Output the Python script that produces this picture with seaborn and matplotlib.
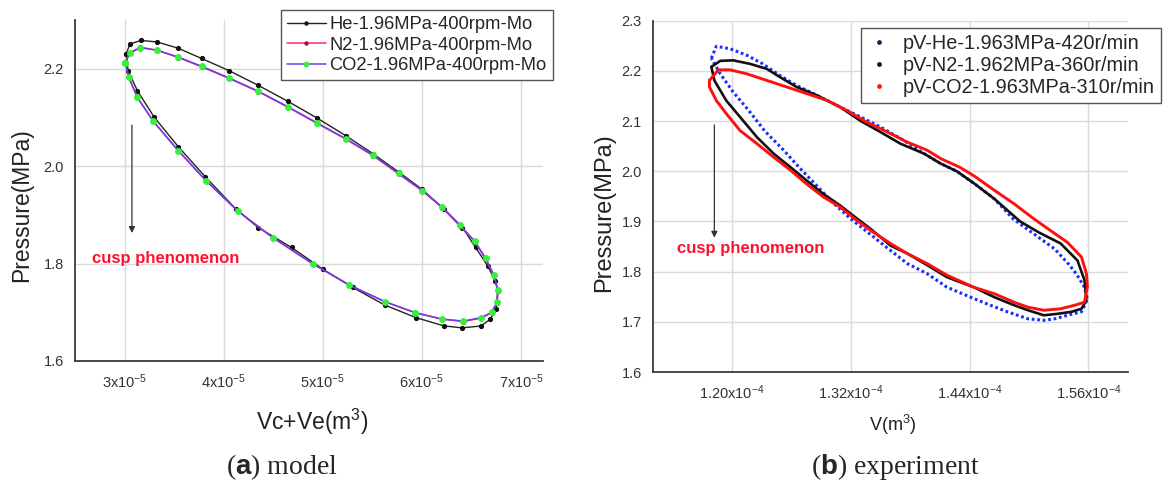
import numpy as np
import pandas as pd
import matplotlib
matplotlib.use("Agg")
import matplotlib.pyplot as plt
import seaborn as sns
from matplotlib.lines import Line2D
from matplotlib.ticker import MultipleLocator, FixedLocator

# ---------------- data (a) model : volume in 1e-5 m^3, pressure in MPa ----------------
he_v = [3.016, 3.054, 3.166, 3.327, 3.541, 3.777, 4.054, 4.347, 4.647, 4.939, 5.235, 5.509,
        5.771, 5.996, 6.221, 6.408, 6.540, 6.663, 6.738, 6.765, 6.746, 6.690, 6.596, 6.408,
        6.221, 5.940, 5.622, 5.302, 5.003, 4.684, 4.347, 4.122, 3.815, 3.541, 3.297, 3.129,
        3.035, 3.016]
he_p = [2.230, 2.251, 2.258, 2.255, 2.242, 2.221, 2.196, 2.166, 2.133, 2.099, 2.062, 2.025,
        1.987, 1.953, 1.912, 1.874, 1.833, 1.795, 1.764, 1.744, 1.706, 1.686, 1.672, 1.668,
        1.672, 1.689, 1.715, 1.751, 1.788, 1.833, 1.874, 1.912, 1.978, 2.040, 2.101, 2.155,
        2.196, 2.230]

n2_v = [3.006, 3.054, 3.159, 3.327, 3.541, 3.777, 4.054, 4.347, 4.647, 4.939, 5.235, 5.509,
        5.764, 6.004, 6.202, 6.382, 6.532, 6.641, 6.727, 6.765, 6.757, 6.701, 6.596, 6.416,
        6.202, 5.933, 5.622, 5.266, 4.902, 4.497, 4.141, 3.822, 3.541, 3.290, 3.129, 3.043,
        3.006]
n2_p = [2.213, 2.233, 2.244, 2.238, 2.223, 2.204, 2.180, 2.153, 2.121, 2.088, 2.055, 2.021,
        1.984, 1.949, 1.915, 1.877, 1.845, 1.809, 1.775, 1.744, 1.720, 1.699, 1.688, 1.681,
        1.686, 1.699, 1.722, 1.756, 1.799, 1.853, 1.908, 1.970, 2.032, 2.092, 2.141, 2.182,
        2.213]

co2_v = [3.006, 3.054, 3.159, 3.327, 3.541, 3.777, 4.054, 4.347, 4.647, 4.939, 5.235, 5.509,
         5.764, 6.004, 6.202, 6.382, 6.532, 6.641, 6.727, 6.765, 6.757, 6.701, 6.596, 6.416,
         6.202, 5.933, 5.622, 5.266, 4.902, 4.497, 4.141, 3.822, 3.541, 3.290, 3.129, 3.043,
         3.006]
co2_p = [2.212, 2.232, 2.243, 2.238, 2.224, 2.205, 2.181, 2.154, 2.122, 2.089, 2.056, 2.022,
         1.985, 1.950, 1.916, 1.879, 1.846, 1.811, 1.776, 1.745, 1.721, 1.700, 1.689, 1.682,
         1.686, 1.699, 1.722, 1.756, 1.799, 1.853, 1.908, 1.970, 2.032, 2.092, 2.141, 2.182,
         2.212]

model_labels = ["He-1.96MPa-400rpm-Mo", "N2-1.96MPa-400rpm-Mo", "CO2-1.96MPa-400rpm-Mo"]

# ---------------- data (b) experiment : volume in 1e-6 m^3, pressure in MPa ----------------
exp_he_v = [117.9, 118.4, 119.8, 121.5, 123.1, 124.8, 126.5, 128.6, 130.9, 133.0, 135.0, 137.3,
            139.4, 141.1, 142.7, 144.5, 146.5, 148.4, 150.5, 152.6, 154.0, 154.8, 155.6, 155.9,
            155.3, 153.9, 152.6, 151.5, 149.9, 147.8, 146.1, 144.1, 141.7, 139.7, 137.7, 135.5,
            133.6, 132.0, 130.2, 128.6, 126.9, 125.2, 123.3, 121.8, 120.1, 118.8, 117.9]
exp_he_p = [2.225, 2.249, 2.244, 2.231, 2.214, 2.191, 2.171, 2.151, 2.128, 2.108, 2.088, 2.062,
            2.035, 2.015, 2.000, 1.975, 1.945, 1.905, 1.875, 1.845, 1.815, 1.795, 1.769, 1.745,
            1.720, 1.713, 1.706, 1.703, 1.706, 1.720, 1.733, 1.749, 1.769, 1.796, 1.816, 1.850,
            1.880, 1.905, 1.937, 1.970, 2.005, 2.042, 2.080, 2.118, 2.158, 2.194, 2.225]

exp_n2_v = [117.9, 118.8, 120.1, 121.8, 123.5, 124.8, 126.5, 128.6, 130.9, 133.0, 135.0, 137.0,
            139.4, 141.1, 142.7, 144.5, 146.5, 149.1, 151.0, 153.2, 154.9, 155.6, 155.8, 155.3,
            154.3, 152.9, 151.5, 149.9, 148.5, 146.5, 144.4, 141.7, 139.7, 137.7, 136.0, 134.0,
            132.6, 130.9, 129.2, 127.5, 125.9, 124.2, 122.5, 120.8, 119.4, 118.2, 117.9]
exp_n2_p = [2.208, 2.220, 2.221, 2.214, 2.204, 2.188, 2.168, 2.151, 2.128, 2.100, 2.078, 2.055,
            2.035, 2.015, 2.000, 1.975, 1.945, 1.900, 1.878, 1.856, 1.822, 1.783, 1.743, 1.726,
            1.720, 1.716, 1.713, 1.723, 1.733, 1.749, 1.769, 1.789, 1.813, 1.836, 1.852, 1.885,
            1.906, 1.932, 1.955, 1.982, 2.008, 2.035, 2.068, 2.108, 2.141, 2.181, 2.208]

exp_co2_v = [117.7, 118.6, 119.8, 121.5, 123.5, 125.5, 127.5, 129.6, 131.6, 133.6, 135.7, 137.7,
             139.7, 141.1, 143.0, 144.5, 146.5, 148.5, 150.5, 152.3, 153.9, 155.3, 155.8, 155.9,
             155.6, 154.6, 153.2, 151.5, 149.9, 148.5, 146.5, 144.4, 141.7, 139.7, 137.7, 136.0,
             134.0, 132.6, 130.9, 129.2, 127.5, 125.9, 124.2, 122.5, 120.8, 119.4, 118.4, 117.7,
             117.7]
exp_co2_p = [2.181, 2.202, 2.202, 2.194, 2.181, 2.168, 2.155, 2.141, 2.121, 2.098, 2.078, 2.058,
             2.042, 2.025, 2.008, 1.990, 1.962, 1.935, 1.905, 1.880, 1.858, 1.829, 1.796, 1.770,
             1.739, 1.733, 1.726, 1.723, 1.729, 1.739, 1.756, 1.769, 1.793, 1.816, 1.836, 1.856,
             1.882, 1.902, 1.929, 1.949, 1.975, 2.002, 2.028, 2.055, 2.081, 2.115, 2.141, 2.168,
             2.181]

exp_labels = ["pV-He-1.963MPa-420r/min", "pV-N2-1.962MPa-360r/min", "pV-CO2-1.963MPa-310r/min"]

# ---------------- ticks ----------------
left_xticks = [3, 4, 5, 6, 7]
left_xticklabels = ["3x10$^{-5}$", "4x10$^{-5}$", "5x10$^{-5}$", "6x10$^{-5}$", "7x10$^{-5}$"]
left_yticks = [1.6, 1.8, 2.0, 2.2]
right_xticks = [120, 132, 144, 156]
right_xticklabels = ["1.20x10$^{-4}$", "1.32x10$^{-4}$", "1.44x10$^{-4}$", "1.56x10$^{-4}$"]
right_yticks = [1.6, 1.7, 1.8, 1.9, 2.0, 2.1, 2.2, 2.3]

# ---------------- style ----------------
sns.set_style("white")
plt.rcParams["font.family"] = ["Liberation Sans", "DejaVu Sans"]
plt.rcParams["mathtext.fontset"] = "custom"
plt.rcParams["mathtext.rm"] = "Liberation Sans"
plt.rcParams["mathtext.it"] = "Liberation Sans:italic"
plt.rcParams["mathtext.bf"] = "Liberation Sans:bold"
plt.rcParams["mathtext.default"] = "regular"

W, H = 1164, 490
fig = plt.figure(figsize=(W / 100, H / 100), dpi=100)
axL = fig.add_axes([75 / W, 1 - 361 / H, (543 - 75) / W, (361 - 20) / H])
axR = fig.add_axes([653 / W, 1 - 372 / H, (1128 - 653) / W, (372 - 20.7) / H])

grid_c = "#dadada"
axis_c = "#3a3a3a"


def style_axes(ax):
    for s in ["top", "right"]:
        ax.spines[s].set_visible(False)
    for s in ["left", "bottom"]:
        ax.spines[s].set_color(axis_c)
        ax.spines[s].set_linewidth(1.3)
    ax.tick_params(which="major", direction="out", length=4, width=1.1, color=axis_c,
                   labelsize=10.5, labelcolor="#333333", pad=4)
    ax.tick_params(which="minor", direction="out", length=2.5, width=1.0, color=axis_c)
    ax.grid(True, which="major", color=grid_c, linewidth=1.0)
    ax.set_axisbelow(True)


# ---------------- (a) model ----------------
sns.lineplot(x=he_v, y=he_p, ax=axL, sort=False, estimator=None, color="#222222", lw=1.0,
             marker="o", markersize=3, markerfacecolor="#111111", markeredgecolor="#111111",
             label=model_labels[0])
sns.lineplot(x=n2_v, y=n2_p, ax=axL, sort=False, estimator=None, color="#f0306a", lw=1.1,
             marker="o", markersize=3, markerfacecolor="#a01030", markeredgecolor="#a01030",
             label=model_labels[1])
sns.lineplot(x=co2_v, y=co2_p, ax=axL, sort=False, estimator=None, color="#6a3cf0", lw=1.1,
             marker="o", markersize=4.2, markerfacecolor="#36f03a", markeredgecolor="#36f03a",
             label=model_labels[2])

axL.set_xlim(2.5, 7.22)
axL.set_ylim(1.6, 2.3)
axL.xaxis.set_major_locator(FixedLocator(left_xticks))
axL.set_xticklabels(left_xticklabels)
axL.xaxis.set_minor_locator(MultipleLocator(0.5))
axL.yaxis.set_major_locator(FixedLocator(left_yticks))
axL.set_yticklabels([f"{v:.1f}" for v in left_yticks])
axL.yaxis.set_minor_locator(MultipleLocator(0.1))
style_axes(axL)

axL.set_xlabel("Vc+Ve(m$^3$)", fontsize=16.5, color="#222222")
axL.set_ylabel("Pressure(MPa)", fontsize=16.5, color="#222222")
axL.xaxis.set_label_coords(0.506, -0.179)
axL.xaxis.label.set_va("center")
axL.yaxis.set_label_coords(-0.113, 0.457)
axL.yaxis.label.set_va("center")

axL.annotate("", xy=(3.074, 1.857), xytext=(3.074, 2.090),
             arrowprops=dict(arrowstyle="-|>", color="#333333", lw=0.9, mutation_scale=9))
axL.text(2.669, 1.811, "cusp phenomenon", color="#ff1030", fontsize=12, fontweight="bold",
         ha="left", va="center")

legL = axL.legend(loc="upper right", bbox_to_anchor=(553 / W, 1 - 10 / H),
                  bbox_transform=fig.transFigure, fontsize=13.2, frameon=True, fancybox=False,
                  edgecolor="#555555", framealpha=1, handlelength=2.1, handletextpad=0.2,
                  labelspacing=0.18, borderpad=0.35, borderaxespad=0, markerscale=0.8)
legL.get_frame().set_linewidth(1.0)

# ---------------- (b) experiment ----------------
sns.lineplot(x=exp_he_v, y=exp_he_p, ax=axR, sort=False, estimator=None, color="#1a2cff",
             lw=2.2, linestyle=(0, (0.9, 0.9)))
sns.lineplot(x=exp_n2_v, y=exp_n2_p, ax=axR, sort=False, estimator=None, color="#111111", lw=1.9)
sns.lineplot(x=exp_co2_v, y=exp_co2_p, ax=axR, sort=False, estimator=None, color="#ff1010", lw=2.1)

axR.set_xlim(112, 160)
axR.set_ylim(1.6, 2.3)
axR.xaxis.set_major_locator(FixedLocator(right_xticks))
axR.set_xticklabels(right_xticklabels)
axR.xaxis.set_minor_locator(MultipleLocator(4))
axR.yaxis.set_major_locator(FixedLocator(right_yticks))
axR.set_yticklabels([f"{v:.1f}" for v in right_yticks])
axR.yaxis.set_minor_locator(MultipleLocator(0.05))
style_axes(axR)

axR.set_xlabel("V(m$^3$)", fontsize=13, color="#222222")
axR.set_ylabel("Pressure(MPa)", fontsize=17, color="#222222")
axR.xaxis.set_label_coords(0.505, -0.151)
axR.xaxis.label.set_va("center")
axR.yaxis.set_label_coords(-0.103, 0.455)
axR.yaxis.label.set_va("center")

axR.annotate("", xy=(118.2, 1.862), xytext=(118.2, 2.098),
             arrowprops=dict(arrowstyle="-|>", color="#333333", lw=0.9, mutation_scale=9))
axR.text(114.4, 1.846, "cusp phenomenon", color="#ff1030", fontsize=12, fontweight="bold",
         ha="left", va="center")

handlesR = [Line2D([], [], linestyle="none", marker="o", markersize=2.4, color=c)
            for c in ["#1a1a60", "#111111", "#ff1010"]]
legR = axR.legend(handlesR, exp_labels, loc="upper right", bbox_to_anchor=(1161 / W, 1 - 28 / H),
                  bbox_transform=fig.transFigure, fontsize=14.3, frameon=True, fancybox=False,
                  edgecolor="#555555", framealpha=1, handlelength=1.2, handletextpad=0.6,
                  labelspacing=0.15, borderpad=0.3, borderaxespad=0)
legR.get_frame().set_linewidth(1.0)

# ---------------- captions ----------------
fig.text(282 / W, 1 - 467 / H, r"($\mathbf{a}$) model", fontsize=20, ha="center", va="center",
         family=["Liberation Serif"], math_fontfamily="custom")
fig.text(895 / W, 1 - 467 / H, r"($\mathbf{b}$) experiment", fontsize=20, ha="center", va="center",
         family=["Liberation Serif"], math_fontfamily="custom")

fig.savefig("out.png", dpi=100)
